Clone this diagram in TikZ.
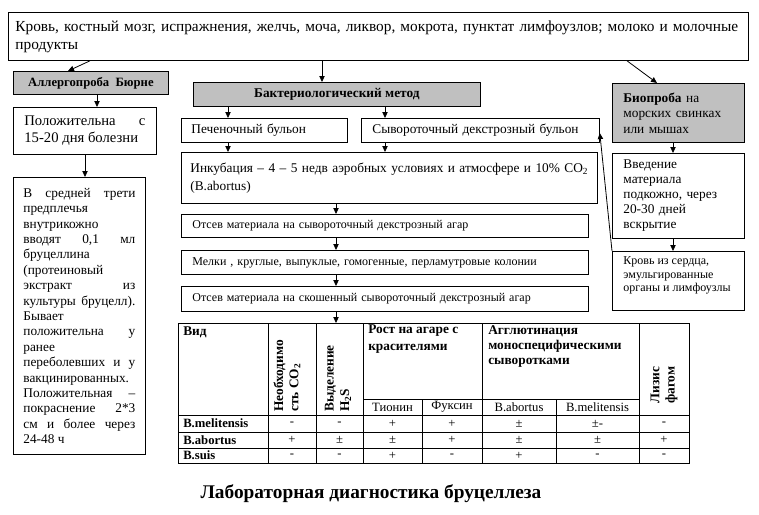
\documentclass[tikz,border=0pt]{standalone}
\usepackage{fontspec}
\setmainfont{Liberation Serif}
\usepackage{tikz}
\usetikzlibrary{calc, arrows.meta, positioning}
\usepackage{xcolor}
\definecolor{boxgray}{RGB}{192,192,192}

\begin{document}
\begin{tikzpicture}[
	x=0.75pt, y=-0.75pt,
	>={Triangle[length=4.5pt, width=4pt]},
	every node/.style={font=\fontsize{10}{12}\selectfont, inner sep=0pt},
	frame/.style={draw, line width=0.6pt, anchor=north west, align=left},
	grey frame/.style={frame, fill=boxgray, align=center, font=\fontsize{10}{12}\selectfont\bfseries},
	link/.style={->, line width=0.6pt},
	grid line/.style={line width=0.6pt},
	cell/.style={font=\fontsize{9.5}{11}\selectfont},
	head/.style={font=\fontsize{10}{12.75}\selectfont\bfseries, align=left, anchor=north west},
	turned head/.style={font=\fontsize{10}{11.5}\selectfont\bfseries, align=left, rotate=90, anchor=west},
	species/.style={font=\fontsize{9.5}{11}\selectfont\bfseries, anchor=west}
	]
	\useasboundingbox (0,0) rectangle (759,514);

	% =====================================================
	% MATERIAL
	% =====================================================
	\node[frame, minimum width=555pt, minimum height=36pt, text width=544.5pt, inner xsep=5.25pt,
		font=\fontsize{11.5}{13.5}\selectfont] (src) at (8,12)
		{Кровь, костный мозг, испражнения, желчь, моча, ликвор, мокрота, пунктат лимфоузлов; молоко и молочные\\продукты};

	% =====================================================
	% ALLERGOPROBA (left)
	% =====================================================
	\node[grey frame, minimum width=116.25pt, minimum height=17.25pt,
		font=\fontsize{9.5}{11}\selectfont\bfseries] (allerg) at (13,71) {Аллергопроба\ \ Бюрне};
	\node[frame, minimum width=107.25pt, minimum height=35.25pt, text width=90.75pt, inner xsep=8.25pt,
		align=justify, font=\fontsize{11}{12.75}\selectfont] (pos) at (13,107)
		{Положительна с\linebreak \mbox{15-20 дня болезни}};
	\node[frame, minimum width=99pt, minimum height=207.75pt, text width=84pt, inner xsep=7.5pt,
		align=justify, font=\fontsize{10}{11.55}\selectfont] (inj) at (13,177)
		{В средней трети\linebreak
		предплечья\linebreak
		внутрикожно\linebreak
		вводят 0,1 мл\linebreak
		бруцеллина\linebreak
		(протеиновый\linebreak
		экстракт из\linebreak
		культуры бруцелл).\linebreak
		Бывает\linebreak
		положительна у\linebreak
		ранее\linebreak
		переболевших и у\linebreak
		вакцинированных.\linebreak
		Положительная –\linebreak
		покраснение 2*3\linebreak
		см и более через\linebreak
		24-48 ч};

	% =====================================================
	% BAKTERIOLOGICHESKIY METOD (middle)
	% =====================================================
	\node[grey frame, minimum width=215.25pt, minimum height=18pt] (bact) at (193,82) {Бактериологический метод};
	\node[frame, minimum width=117pt, minimum height=18pt, text width=109.5pt, inner xsep=7.5pt] (liver) at (181,118) {Печеночный бульон};
	\node[frame, minimum width=170.25pt, minimum height=18pt, text width=162pt, inner xsep=8.25pt] (serum) at (361,118) {Сывороточный декстрозный бульон};
	\node[frame, minimum width=305.25pt, minimum height=38.25pt, text width=298.5pt, inner xsep=6.75pt,
		font=\fontsize{10}{13.5}\selectfont] (incub) at (181,152)
		{Инкубация – 4 – 5 недв аэробных условиях и атмосфере и 10\% CO\textsubscript{2}\\(B.abortus)};
	\node[frame, minimum width=305.25pt, minimum height=17.25pt, text width=288.75pt, inner xsep=8.25pt,
		font=\fontsize{9}{11}\selectfont] (agar1) at (181,214) {Отсев материала на сывороточный декстрозный агар};
	\node[frame, minimum width=305.25pt, minimum height=18pt, text width=288.75pt, inner xsep=8.25pt,
		font=\fontsize{9}{11}\selectfont] (colony) at (181,250) {Мелки , круглые, выпуклые, гомогенные, перламутровые колонии};
	\node[frame, minimum width=305.25pt, minimum height=18.75pt, text width=288.75pt, inner xsep=8.25pt,
		font=\fontsize{9}{11}\selectfont] (agar2) at (181,286) {Отсев материала на скошенный сывороточный декстрозный агар};

	% =====================================================
	% BIOPROBA (right)
	% =====================================================
	\node[grey frame, align=left, minimum width=99pt, minimum height=44.25pt, text width=82.5pt, inner xsep=8.25pt,
		font=\fontsize{10}{11.6}\selectfont] (bio) at (612,83) {\textbf{Биопроба} на\\морских свинках\\или мышах};
	\node[frame, minimum width=99pt, minimum height=63.75pt, text width=82.5pt, inner xsep=8.25pt,
		font=\fontsize{10}{11.25}\selectfont] (intro) at (612,153) {Введение\\материала\\подкожно, через\\20-30 дней\\вскрытие};
	\node[frame, minimum width=99pt, minimum height=44.25pt, inner xsep=8.25pt,
		font=\fontsize{9}{10.1}\selectfont] (blood) at (612,251)
		{\parbox[c][36pt][t]{82.5pt}{\raggedright Кровь из сердца,\\эмульгированные\\\mbox{органы и лимфоузлы}}};

	% =====================================================
	% STRELKI
	% =====================================================
	\coordinate (allerg axis) at (97,0);
	\coordinate (pos axis) at (85,0);
	\coordinate (bact axis) at (322,0);
	\coordinate (liver axis) at (228,0);
	\coordinate (serum axis) at (385,0);
	\coordinate (flow axis) at (336,0);
	\coordinate (bio axis) at (673,0);
	\coordinate (table top) at (336,323);

	\draw[link] ($(src.south west)+(82,0)$) -- ($(allerg.north west)+(55,0)$);
	\draw[link] (src.south -| bact axis) -- (bact.north -| bact axis);
	\draw[link] ($(src.south west)+(619,0)$) -- ($(bio.north west)+(45,0)$);

	\draw[link] (allerg.south -| allerg axis) -- (pos.north -| allerg axis);
	\draw[link] (pos.south -| pos axis) -- (inj.north -| pos axis);

	\draw[link] (bact.south -| liver axis) -- (liver.north -| liver axis);
	\draw[link] (bact.south -| serum axis) -- (serum.north -| serum axis);
	\draw[link] (liver.south -| liver axis) -- (incub.north -| liver axis);
	\draw[link] (serum.south -| serum axis) -- (incub.north -| serum axis);
	\draw[link] (incub.south -| flow axis) -- (agar1.north -| flow axis);
	\draw[link] (agar1.south -| flow axis) -- (colony.north -| flow axis);
	\draw[link] (colony.south -| flow axis) -- (agar2.north -| flow axis);
	\draw[link] (agar2.south -| flow axis) -- (table top);

	\draw[link] (bio.south -| bio axis) -- (intro.north -| bio axis);
	\draw[link] (intro.south -| bio axis) -- (blood.north -| bio axis);
	\draw[link] (blood.north west) -- ([yshift=-2pt]serum.east);

	% =====================================================
	% TABLITSA
	% =====================================================
	\draw[grid line] (178,323) rectangle (689,463);
	\foreach \x in {268,316,363,482,639}
		\draw[grid line] (\x,323) -- (\x,463);
	\foreach \x in {422,556}
		\draw[grid line] (\x,399) -- (\x,463);
	\foreach \y in {415,432,448}
		\draw[grid line] (178,\y) -- (689,\y);
	\draw[grid line] (363,399) -- (639,399);

	\node[head] (h vid) at (183,326) {Вид};
	\node[turned head] (h co2) at (287,412) {Необходимо\\сть CO\textsubscript{2}};
	\node[turned head] (h h2s) at (338,412) {Выделение\\H\textsubscript{2}S};
	\node[head] (h rost) at (368,324) {Рост на агаре с\\красителями};
	\node[head, font=\fontsize{10}{11.25}\selectfont\bfseries] (h aggl) at (488,325) {Агглютинация\\моноспецифическими\\сыворотками};
	\node[turned head, align=center] (h lysis) at (664,404) {Лизис\\фагом};

	\node[cell] (h thion) at (392.5,407) {Тионин};
	\node[cell] (h fuch) at (452,407) {Фуксин};
	\node[cell] (h abort) at (519,407) {B.abortus};
	\node[cell] (h melit) at (597.5,407) {B.melitensis};

	\foreach \sp/\y/\a/\b/\c/\d/\e/\f/\g [count=\i] in
		{B.melitensis/423.5/-/-/+/+/±/±-/-,
		 B.abortus/440/+/±/±/+/±/±/+,
		 B.suis/455.5/-/-/+/-/+/-/-}
	{
		\node[species] (sp\i) at (183,\y) {\sp};
		\node[cell] (c\i-1) at (292,\y) {\a};
		\node[cell] (c\i-2) at (339.5,\y) {\b};
		\node[cell] (c\i-3) at (392.5,\y) {\c};
		\node[cell] (c\i-4) at (452,\y) {\d};
		\node[cell] (c\i-5) at (519,\y) {\e};
		\node[cell] (c\i-6) at (597.5,\y) {\f};
		\node[cell] (c\i-7) at (664,\y) {\g};
	}

	% =====================================================
	% PODPIS
	% =====================================================
	\node[font=\fontsize{14.5}{16}\selectfont\bfseries] (title) at (371,494) {Лабораторная диагностика бруцеллеза};

\end{tikzpicture}
\end{document}
